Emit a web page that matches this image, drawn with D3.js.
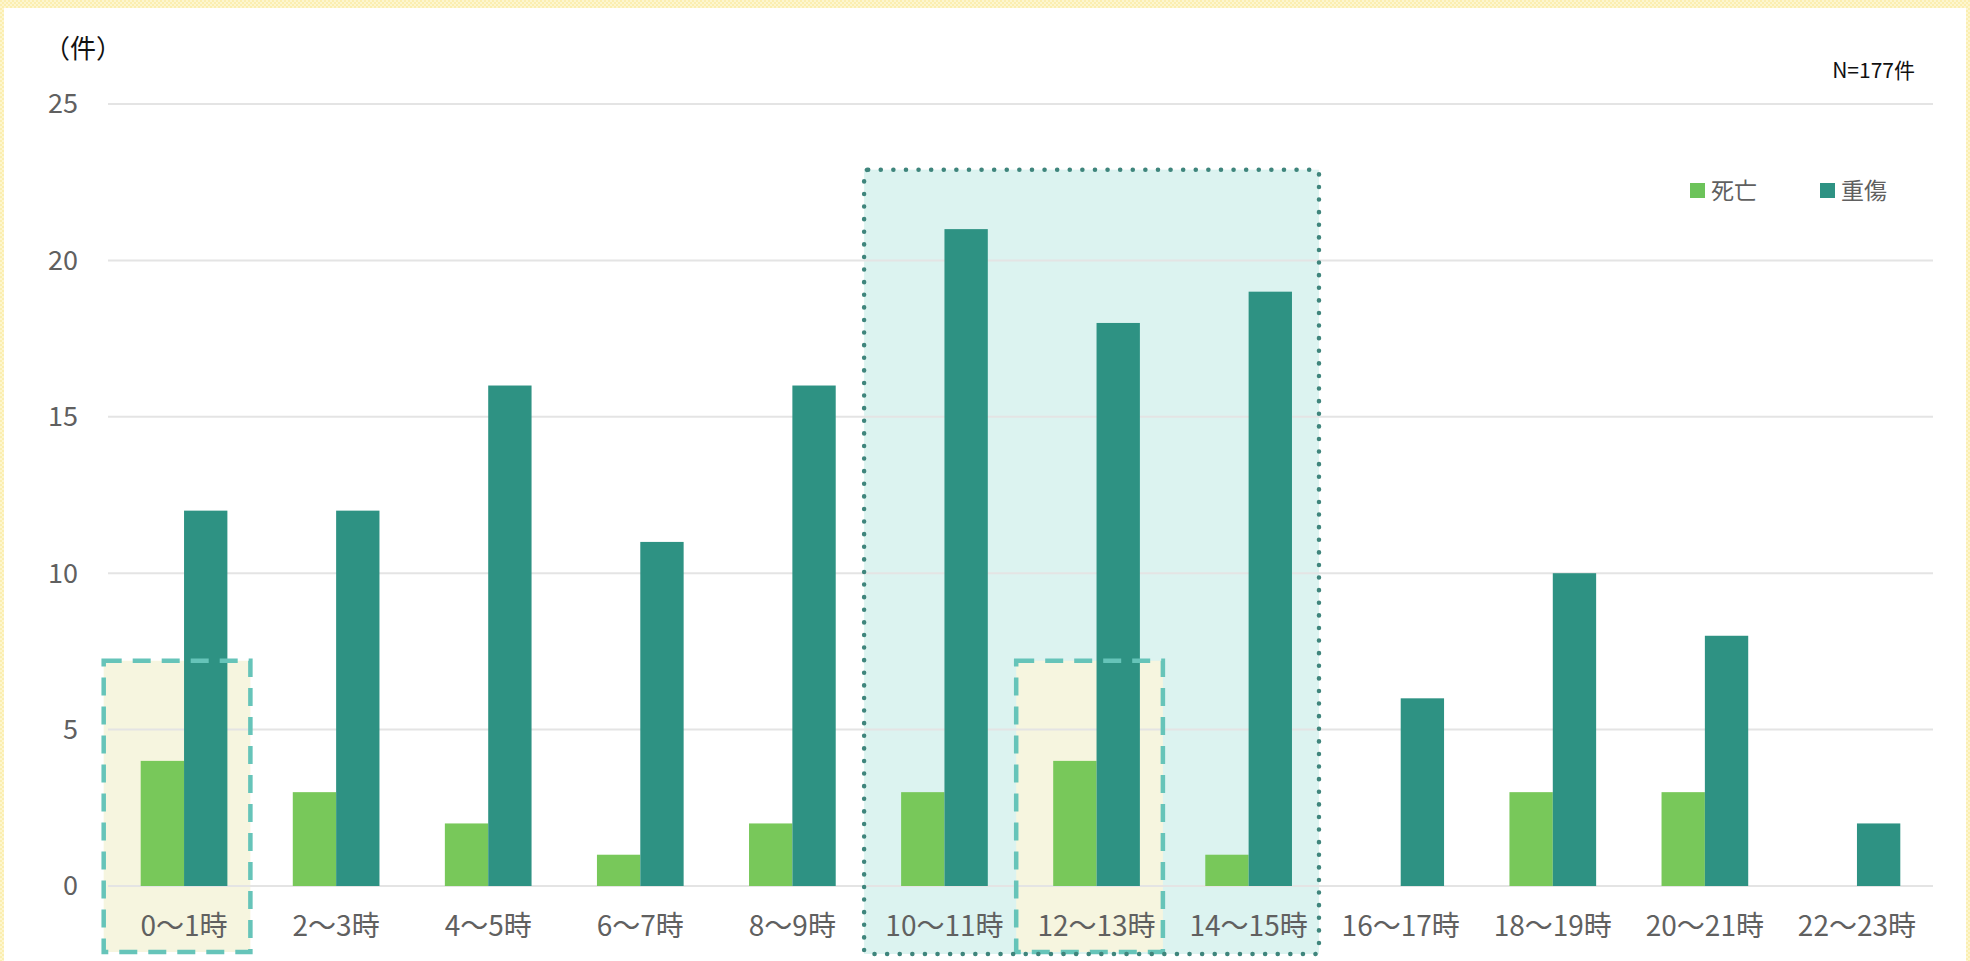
<!DOCTYPE html>
<html><head><meta charset="utf-8">
<script src="https://cdn.jsdelivr.net/npm/d3@7"></script>
<style>
html,body{margin:0;padding:0;background:#fff;}
svg{display:block;font-family:"Noto Sans CJK JP","Noto Sans",sans-serif;}
</style></head>
<body>
<svg id="c" width="1970" height="961"></svg>
<script>
const categories = ["0～1時","2～3時","4～5時","6～7時","8～9時","10～11時","12～13時","14～15時","16～17時","18～19時","20～21時","22～23時"];
const seriesNames = ["死亡","重傷"];
const deaths  = [4,3,2,1,2,3,4,1,0,3,3,0];
const serious = [12,12,16,11,16,21,18,19,6,10,8,2];
const yTicks = [0,5,10,15,20,25];
const colors = ["#78c85a","#2e9283"];
const highlights = [
  {from:"10～11時", to:"14～15時", top:22.9, kind:"dotted"},
  {from:"0～1時", to:"0～1時", top:7.2, kind:"dashed"},
  {from:"12～13時", to:"12～13時", top:7.2, kind:"dashed"}
];

(function(){
const svg = d3.select("#c");
const W = 1970, H = 961;
const pLeft = 108, pRight = 1933, pTop = 104, pBottom = 886;

const y = d3.scaleLinear().domain([0,25]).range([pBottom, pTop]);
const x0 = d3.scaleBand().domain(categories).range([pLeft,pRight]).paddingInner(0.43).paddingOuter(0.215);
const x1 = d3.scaleBand().domain(seriesNames).range([0, x0.bandwidth()]);

// outer frame (checkered yellow)
const defs = svg.append("defs");
const pat = defs.append("pattern").attr("id","chk").attr("width",4).attr("height",4).attr("patternUnits","userSpaceOnUse");
pat.append("rect").attr("width",4).attr("height",4).attr("fill","#fdf6cf");
pat.append("rect").attr("width",2).attr("height",2).attr("fill","#fbeeb0");
pat.append("rect").attr("x",2).attr("y",2).attr("width",2).attr("height",2).attr("fill","#fbeeb0");
svg.append("rect").attr("x",0).attr("y",0).attr("width",W).attr("height",8).attr("fill","url(#chk)");
svg.append("rect").attr("x",0).attr("y",0).attr("width",4).attr("height",H).attr("fill","url(#chk)");
svg.append("rect").attr("x",W-4).attr("y",0).attr("width",4).attr("height",H).attr("fill","url(#chk)");

// highlight boxes
function boxGeom(h){
  const l = x0(h.from) - 37;
  const r = x0(h.to) + x0.bandwidth() + (h.kind==="dotted"?27:23);
  const t = y(h.top);
  const b = pBottom + (h.kind==="dotted"?68:66);
  return {l,r,t,b};
}
highlights.forEach(h=>{
  const g = boxGeom(h);
  svg.append("rect").attr("x",g.l).attr("y",g.t).attr("width",g.r-g.l).attr("height",g.b-g.t)
    .attr("fill", h.kind==="dotted" ? "#dcf3f0" : "#f6f5df");
});

// gridlines
svg.append("g").selectAll("line").data(yTicks).join("line")
  .attr("x1",pLeft).attr("x2",pRight)
  .attr("y1",d=>y(d)).attr("y2",d=>y(d))
  .attr("stroke","#e4e4e4").attr("stroke-width",2);

// y tick labels
svg.append("g").selectAll("text").data(yTicks).join("text")
  .attr("x",78).attr("y",d=>y(d)).attr("dy","0.35em")
  .attr("text-anchor","end").attr("font-size",27).attr("fill","#606060")
  .text(d=>d);

// bars
const rows = categories.map((c,i)=>({cat:c, vals:[deaths[i], serious[i]]}));
const grp = svg.append("g").selectAll("g").data(rows).join("g")
  .attr("transform",d=>`translate(${x0(d.cat)},0)`);
grp.selectAll("rect").data(d=>d.vals.map((v,j)=>({s:seriesNames[j], v, j})))
  .join("rect")
  .attr("x",d=>x1(d.s)).attr("width",x1.bandwidth())
  .attr("y",d=>y(d.v)).attr("height",d=>y(0)-y(d.v))
  .attr("fill",d=>colors[d.j]);

// x labels
svg.append("g").selectAll("text").data(categories).join("text")
  .attr("x",d=>x0(d)+x0.bandwidth()/2).attr("y",936)
  .attr("text-anchor","middle").attr("font-size",28).attr("fill","#606060")
  .text(d=>d);

// box borders
highlights.filter(h=>h.kind==="dashed").forEach(h=>{
  const g = boxGeom(h);
  svg.append("rect").attr("x",g.l).attr("y",g.t).attr("width",g.r-g.l).attr("height",g.b-g.t)
    .attr("fill","none").attr("stroke","#66c4b9").attr("stroke-width",4.5)
    .attr("stroke-dasharray","18,11");
});
highlights.filter(h=>h.kind==="dotted").forEach(h=>{
  const g = boxGeom(h);
  svg.append("rect").attr("x",g.l).attr("y",g.t).attr("width",g.r-g.l).attr("height",g.b-g.t)
    .attr("rx",4)
    .attr("fill","none").attr("stroke","#3f857c").attr("stroke-width",4.5)
    .attr("stroke-linecap","round").attr("stroke-dasharray","0.1,12.5");
});

// unit label
svg.append("text").attr("x",44).attr("y",58).attr("font-size",26).attr("fill","#111").text("（件）");
// N
svg.append("text").attr("x",1915).attr("y",78).attr("text-anchor","end").attr("font-size",21).attr("fill","#111").text("N=177件");

// legend
const legX = [1690, 1820];
const lg = svg.append("g").selectAll("g").data(seriesNames).join("g")
  .attr("transform",(d,i)=>`translate(${legX[i]},183)`);
lg.append("rect").attr("width",15).attr("height",15).attr("fill",(d,i)=>i===0?"#6cc35a":colors[1]);
lg.append("text").attr("x",21).attr("y",7.5).attr("dy","0.36em").attr("font-size",23).attr("fill","#606060").text(d=>d);
})();
</script>
</body></html>
